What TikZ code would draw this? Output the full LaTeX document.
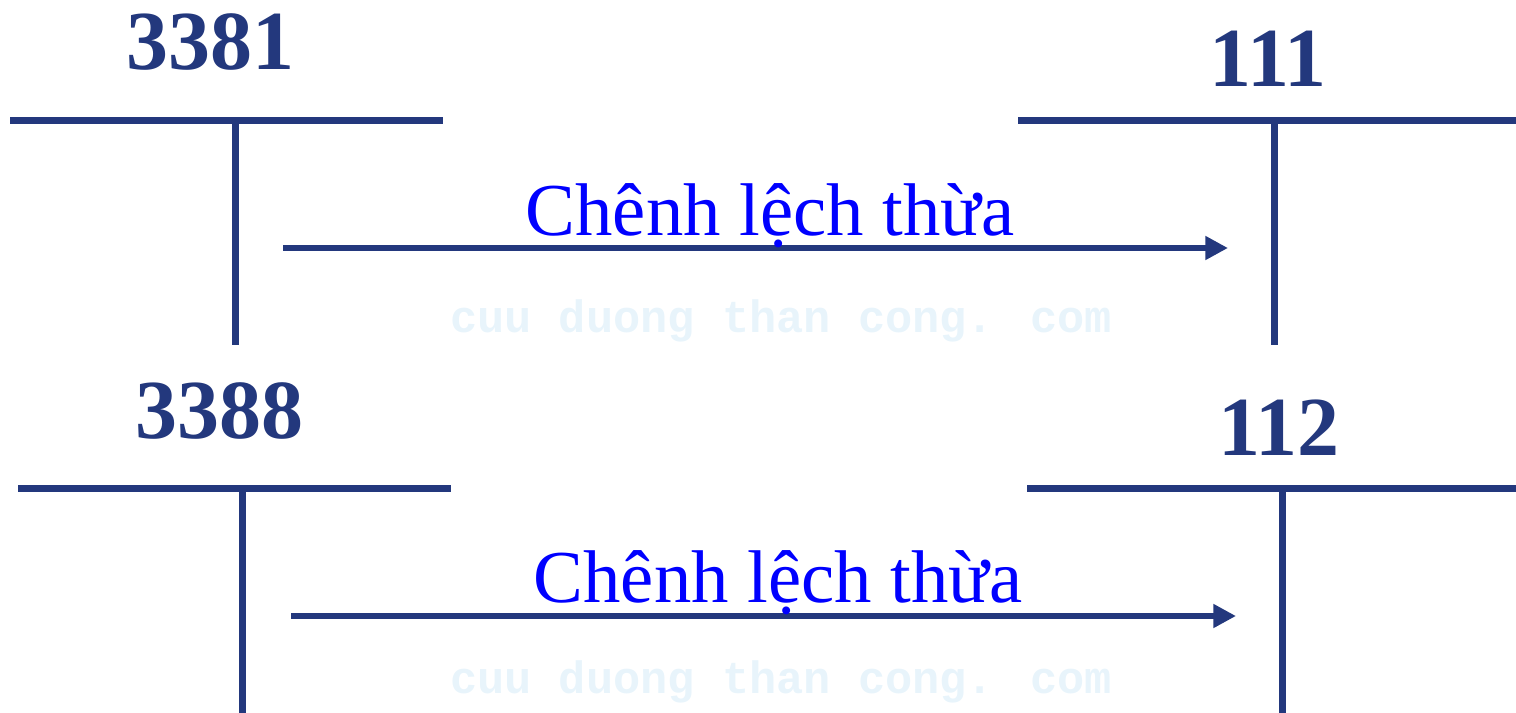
\documentclass[tikz,border=0pt]{standalone}
\usepackage{fontspec}
\setmainfont{Liberation Serif}
\newfontfamily\wmfont{Liberation Mono}
\usetikzlibrary{arrows.meta}
\definecolor{acct}{RGB}{35,56,125}
\definecolor{wmark}{RGB}{232,244,251}
\begin{document}
\begin{tikzpicture}[x=0.75pt,y=-0.75pt,
  rule/.style={draw=acct,line width=5.25pt},
  flow/.style={draw=acct,line width=4.8pt,-{Triangle[length=17pt,width=17pt]}},
  acctname/.style={anchor=base,text=acct,inner sep=0pt,font=\fontsize{63}{63}\selectfont\bfseries},
  flowlabel/.style={anchor=base,text=blue,inner sep=0pt,font=\fontsize{56}{56}\selectfont},
  watermark/.style={anchor=base,text=wmark,inner sep=0pt,font=\fontsize{34}{34}\selectfont\wmfont\bfseries}]
\useasboundingbox (0,0) rectangle (1516,713);

% ---- row 1: 3381 -> 111 ----
\node[acctname] (n3381) at (210,70) {3381};
\node[acctname] (n111) at (1268,87) {111};
\coordinate (a1L) at (10,121);  \coordinate (a1R) at (443,121);
\coordinate (a1T) at (235,121); \coordinate (a1B) at (235,345);
\coordinate (b1L) at (1018,121); \coordinate (b1R) at (1516,121);
\coordinate (b1T) at (1274,121); \coordinate (b1B) at (1274,345);
\draw[rule] (a1L) -- (a1R);
\draw[rule] (a1T) -- (a1B);
\draw[rule] (b1L) -- (b1R);
\draw[rule] (b1T) -- (b1B);
\node[watermark] (wm1) at (781,332) {cuu duong than cong. com};
\coordinate (f1S) at (283,248); \coordinate (f1E) at (1228,248);
\draw[flow] (f1S) -- (f1E);
\node[flowlabel] (t1) at (770,235) {Chênh lệch thừa};

% ---- row 2: 3388 -> 112 ----
\node[acctname] (n3388) at (219,438) {3388};
\node[acctname] (n112) at (1279,455) {112};
\coordinate (a2L) at (18,488);  \coordinate (a2R) at (451,488);
\coordinate (a2T) at (242,488); \coordinate (a2B) at (242,713);
\coordinate (b2L) at (1027,488); \coordinate (b2R) at (1516,488);
\coordinate (b2T) at (1282,488); \coordinate (b2B) at (1282,713);
\draw[rule] (a2L) -- (a2R);
\draw[rule] (a2T) -- (a2B);
\draw[rule] (b2L) -- (b2R);
\draw[rule] (b2T) -- (b2B);
\node[watermark] (wm2) at (781,693) {cuu duong than cong. com};
\coordinate (f2S) at (291,616); \coordinate (f2E) at (1236,616);
\draw[flow] (f2S) -- (f2E);
\node[flowlabel] (t2) at (778,602) {Chênh lệch thừa};
\end{tikzpicture}
\end{document}
